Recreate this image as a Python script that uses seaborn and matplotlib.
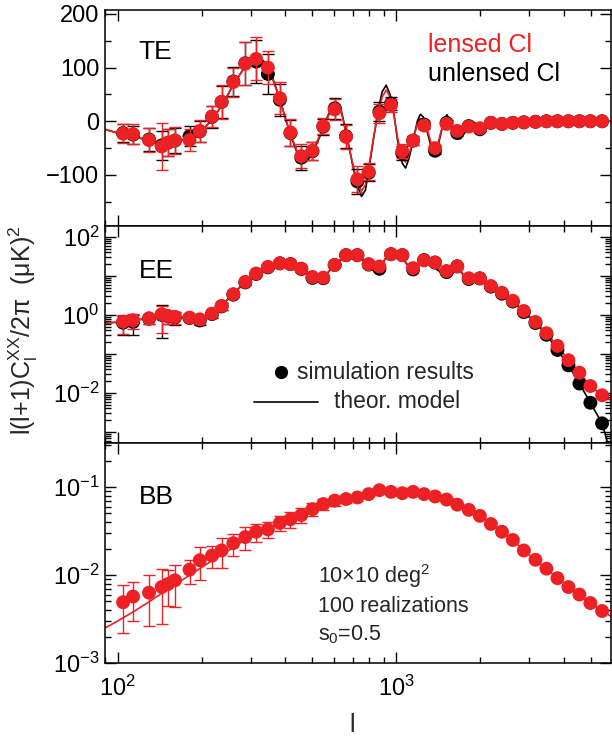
import numpy as np
import matplotlib
matplotlib.use("Agg")
import matplotlib.pyplot as plt
import seaborn as sns
import pandas as pd
from matplotlib.ticker import MultipleLocator, LogLocator, FuncFormatter, NullFormatter, FixedLocator
from matplotlib.lines import Line2D

# ---------------- data ----------------
ell = [104.5, 113.5, 129.5, 143.8, 151.5, 160.5, 181, 197, 218, 236, 260, 287, 314, 346,
       382, 417, 456, 500, 547, 601, 660, 725, 796, 870, 957, 1051, 1149, 1258, 1378,
       1515, 1655, 1820, 1995, 2185, 2395, 2620, 2870, 3160, 3460, 3790, 4150, 4545,
       4975, 5480]

te_lensed = [-23, -24, -35, -47, -40, -36, -35, -18, 9, 36, 73, 107, 116, 100, 43, -21,
             -65, -55, -9, 22, -29, -108, -94, 15, 30, -56, -36, -8, -50, -5, -18, -10,
             -13, -3, -5, -3, -2, -1, 0, 0, 0, 0, 0, 0]
te_lensed_err = [17, 18, 23, 43, 25, 25, 20, 20, 20, 32, 27, 40, 40, 30, 30, 25, 22, 17,
                 15, 20, 22, 24, 16, 18, 12, 13, 8, 6, 6, 5, 5, 4, 3, 2, 2, 1.5, 1, 1, 1,
                 0.5, 0.5, 0.5, 0.5, 0.5]
te_unlensed = [-22, -25, -34, -45, -40, -36, -28, -19, 8, 36, 74, 108, 111, 88, 40, -22,
               -68, -56, -10, 24, -28, -112, -96, 18, 33, -60, -36, -6, -55, -3, -22, -9,
               -15, -3, -5, -3, -2, -1, 0, 0, 0, 0, 0, 0]
te_unlensed_err = [16, 17, 22, 27, 25, 24, 19, 19, 20, 30, 27, 40, 40, 37, 30, 25, 22, 17,
                   15, 19, 22, 24, 16, 18, 12, 13, 8, 6, 6, 5, 5, 4, 3, 2, 2, 1.5, 1, 1, 1,
                   0.5, 0.5, 0.5, 0.5, 0.5]

ee_lensed = [0.67, 0.73, 0.82, 1.04, 0.94, 0.89, 0.85, 0.77, 1.08, 1.7, 3.4, 7.0, 11.5, 17,
             21, 20, 15.4, 9.4, 9.0, 19, 34, 34, 20, 17.4, 36, 34, 15.8, 25, 22, 13.4,
             17.4, 8.7, 8.7, 5.5, 3.7, 2.3, 1.26, 0.66, 0.34, 0.16, 0.069, 0.033, 0.015,
             0.0087]
ee_lensed_err = [0.35, 0.3, 0.22, 0.7, 0.35, 0.3, 0.15, 0.18, 0.2, 0.35, 0.5, 0.8, 1.0, 1.3,
                 1.5, 1.4, 1.0, 0.6, 0.5, 1.0, 1.6, 1.5, 0.8, 0.7, 1.3, 1.2, 0.5, 0.7, 0.6,
                 0.35, 0.4, 0.2, 0.17, 0.1, 0.06, 0.035, 0.018, 0.009, 0.004, 0.002,
                 0.0008, 0.0004, 0.00018, 0.0001]
ee_unlensed = [0.63, 0.66, 0.80, 1.0, 0.92, 0.86, 0.83, 0.72, 1.05, 1.65, 3.3, 6.8, 11.2,
               16.5, 21, 20, 15, 8.9, 8.7, 19, 34, 34, 19.5, 15.2, 36, 34, 14.6, 25.5, 22,
               12.5, 17.6, 8.3, 8.6, 5.3, 3.5, 2.2, 1.18, 0.62, 0.31, 0.126, 0.051, 0.0174,
               0.0056, 0.00166]
ee_unlensed_err = [0.33, 0.35, 0.22, 0.75, 0.35, 0.3, 0.15, 0.18, 0.2, 0.35, 0.5, 0.8, 1.0,
                   1.3, 1.5, 1.4, 1.0, 0.6, 0.5, 1.0, 1.6, 1.5, 0.8, 0.7, 1.3, 1.2, 0.5, 0.7,
                   0.6, 0.35, 0.4, 0.2, 0.17, 0.1, 0.06, 0.035, 0.018, 0.009, 0.004, 0.002,
                   0.0008, 0.0003, 0.0001, 0.00004]

bb_lensed = [0.0049, 0.0057, 0.0063, 0.0073, 0.0079, 0.0087, 0.0115, 0.0147, 0.0166, 0.019,
             0.023, 0.027, 0.031, 0.033, 0.039, 0.043, 0.048, 0.056, 0.064, 0.070, 0.073,
             0.076, 0.083, 0.092, 0.088, 0.085, 0.088, 0.083, 0.078, 0.072, 0.063, 0.055,
             0.047, 0.038, 0.031, 0.025, 0.019, 0.0149, 0.0118, 0.0092, 0.0073, 0.0060,
             0.0048, 0.0039]
bb_lensed_err = [0.0027, 0.0027, 0.0037, 0.0045, 0.0035, 0.0044, 0.0035, 0.006, 0.0046,
                 0.007, 0.0066, 0.0078, 0.0073, 0.007, 0.0075, 0.009, 0.0095, 0.0095, 0.009,
                 0.0095, 0.007, 0.006, 0.005, 0.005, 0.004, 0.004, 0.004, 0.0035, 0.003,
                 0.003, 0.0025, 0.002, 0.0018, 0.0015, 0.0012, 0.001, 0.0008, 0.0006,
                 0.0005, 0.0004, 0.0003, 0.00025, 0.0002, 0.00015]

# theory curves
ell_te_th = [90, 100, 113, 130, 145, 160, 180, 200, 220, 240, 260, 285, 305, 320, 340, 360,
             380, 400, 420, 440, 460, 480, 500, 530, 560, 590, 610, 630, 660, 690, 720, 750,
             775, 800, 830, 860, 890, 920, 950, 980, 1010, 1050, 1080, 1110, 1150, 1190,
             1220, 1250, 1300, 1340, 1371, 1400, 1450, 1490, 1520, 1560, 1620, 1694, 1760,
             1830, 1900, 1980, 2050, 2150, 2300, 2600, 3000, 4000, 6000]
te_unlensed_th = [-15, -22, -28, -36, -40, -38, -32, -18, 5, 35, 68, 100, 117, 121, 108, 80,
                  45, 5, -30, -58, -73, -73, -60, -30, 3, 28, 35, 28, -20, -70, -115, -140,
                  -128, -85, -30, 20, 55, 67, 50, 15, -35, -78, -87, -70, -35, 0, 13, 8,
                  -25, -52, -62, -55, -20, 5, 12, 0, -22, -33, -22, -8, -2, -8, -12, -5, -2,
                  -1, 0, 0, 0]
te_lensed_th = [-15, -22, -28, -36, -40, -38, -32, -18, 5, 35, 68, 100, 115, 118, 105, 78,
                44, 5, -28, -55, -68, -67, -55, -28, 2, 24, 30, 24, -22, -68, -108, -130,
                -118, -80, -28, 15, 45, 58, 45, 12, -30, -70, -76, -62, -34, -5, 5, 2, -20,
                -45, -52, -48, -18, -2, 3, -5, -17, -24, -18, -10, -8, -10, -10, -5, -3, -2,
                -1, 0, 0]

ell_ee_th = [90, 100, 113, 130, 145, 160, 180, 195, 210, 225, 240, 260, 285, 315, 345, 380,
             410, 450, 490, 525, 560, 600, 650, 690, 730, 780, 830, 870, 920, 960, 1000,
             1050, 1100, 1140, 1200, 1250, 1300, 1350, 1400, 1450, 1520, 1600, 1680, 1750,
             1800, 1900, 2000, 2100, 2200, 2300, 2400, 2620, 2870, 3160, 3460, 3790, 4150,
             4545, 4975, 5480, 5750, 5900]
ee_lensed_th = [0.62, 0.65, 0.72, 0.82, 0.88, 0.88, 0.85, 0.85, 0.98, 1.3, 2.0, 3.4, 6.8,
                11.5, 16.5, 20.5, 20.5, 15.5, 10, 8.5, 11, 19, 31, 36, 33, 22, 15, 16, 30,
                37, 36, 30, 19, 15.5, 20, 25, 24, 19, 16, 14, 15, 17.5, 15, 10.5, 8.5, 8.5,
                8.0, 6.5, 5.2, 4.3, 3.8, 2.3, 1.25, 0.66, 0.34, 0.16, 0.069, 0.033, 0.015,
                0.0087, 0.0072, 0.0065]
ee_unlensed_th = [0.62, 0.65, 0.72, 0.82, 0.88, 0.88, 0.85, 0.85, 0.98, 1.3, 2.0, 3.4, 6.8,
                  11.5, 16.5, 20.5, 20.5, 15.5, 9.6, 8.0, 10.8, 19, 31, 36.5, 33, 21, 13.5,
                  15, 30, 38, 37, 30, 18, 14.5, 20, 26, 25, 18.5, 14.5, 12, 14.5, 18, 14.5,
                  10, 8.0, 8.6, 7.8, 6.3, 5.0, 4.0, 3.6, 2.2, 1.18, 0.62, 0.31, 0.126, 0.051,
                  0.0174, 0.0056, 0.00166, 0.0005, 0.00035]

ell_bb_th = [90, 100, 115, 130, 145, 160, 180, 200, 225, 250, 280, 315, 350, 400, 450, 500,
             550, 600, 660, 720, 800, 870, 950, 1050, 1150, 1250, 1380, 1500, 1650, 1800,
             2000, 2200, 2400, 2620, 2870, 3160, 3460, 3790, 4150, 4545, 4975, 5480, 5900]
bb_lensed_th = [0.0025, 0.0030, 0.0039, 0.0050, 0.0063, 0.0077, 0.0098, 0.0122, 0.0155,
                0.019, 0.024, 0.029, 0.034, 0.041, 0.048, 0.055, 0.062, 0.068, 0.074, 0.079,
                0.084, 0.087, 0.088, 0.087, 0.085, 0.082, 0.077, 0.071, 0.063, 0.055, 0.046,
                0.038, 0.031, 0.025, 0.019, 0.0148, 0.0117, 0.0092, 0.0073, 0.0059, 0.0048,
                0.0039, 0.0034]

panel_names = ["TE", "EE", "BB"]

# ---------------- style ----------------
sns.set_theme(style="ticks")
plt.rcParams['font.family'] = ['Liberation Sans', 'DejaVu Sans']
plt.rcParams['mathtext.fontset'] = 'custom'
plt.rcParams['mathtext.rm'] = 'Liberation Sans'
plt.rcParams['mathtext.it'] = 'Liberation Sans:italic'
plt.rcParams['mathtext.bf'] = 'Liberation Sans:bold'
plt.rcParams['axes.edgecolor'] = 'black'
plt.rcParams['axes.linewidth'] = 1.1
plt.rcParams['xtick.color'] = 'black'
plt.rcParams['ytick.color'] = 'black'

RED = '#ED2024'
BLACK = '#000000'

W, H = 612, 739
fig = plt.figure(figsize=(W / 100, H / 100), dpi=100)


def fx(x):
    return x / W


def fy(y):
    return 1 - y / H


left, right = fx(105), fx(611)
edges = [9.5, 226, 443, 663]
axes = []
for i in range(3):
    ax = fig.add_axes([left, fy(edges[i + 1]), right - left, (edges[i + 1] - edges[i]) / H])
    axes.append(ax)
ax_te, ax_ee, ax_bb = axes

ms = 100  # marker area (pt^2)


def draw_series(ax, x, y, yerr, color, z):
    ax.errorbar(x, y, yerr=yerr, fmt='none', ecolor=color, elinewidth=1.0,
                capsize=4.5, capthick=1.0, zorder=z)
    sns.scatterplot(x=x, y=y, ax=ax, color=color, s=ms, linewidth=0,
                    edgecolor='none', zorder=z + 0.5, legend=False)


def draw_line(ax, x, y, color, z):
    sns.lineplot(x=x, y=y, ax=ax, color=color, linewidth=1.2, estimator=None,
                 sort=False, zorder=z, legend=False)


# TE
draw_line(ax_te, ell_te_th, te_unlensed_th, BLACK, 2)
draw_line(ax_te, ell_te_th, te_lensed_th, RED, 2.2)
draw_series(ax_te, ell, te_unlensed, te_unlensed_err, BLACK, 3)
draw_series(ax_te, ell, te_lensed, te_lensed_err, RED, 4)

# EE
draw_line(ax_ee, ell_ee_th, ee_unlensed_th, BLACK, 2)
draw_line(ax_ee, ell_ee_th, ee_lensed_th, RED, 2.2)
draw_series(ax_ee, ell, ee_unlensed, ee_unlensed_err, BLACK, 3)
draw_series(ax_ee, ell, ee_lensed, ee_lensed_err, RED, 4)

# BB
draw_line(ax_bb, ell_bb_th, bb_lensed_th, RED, 2)
draw_series(ax_bb, ell, bb_lensed, bb_lensed_err, RED, 4)

# ---------------- axes ----------------
for ax in axes:
    ax.set_xscale('log')
    ax.set_xlim(90, 5900)
    ax.set_xlabel('')
    ax.set_ylabel('')
    ax.xaxis.set_major_locator(LogLocator(base=10, numticks=10))
    ax.xaxis.set_minor_locator(LogLocator(base=10, subs=np.arange(2, 10), numticks=20))
    ax.tick_params(which='both', direction='in', top=True, right=True, width=1.0,
                   labelsize=17, colors='black')
    ax.tick_params(which='major', length=8)
    ax.tick_params(which='minor', length=4)
    ax.tick_params(axis='y', pad=4)
    for sp in ax.spines.values():
        sp.set_visible(True)
        sp.set_color('black')
        sp.set_linewidth(1.1)

for ax in (ax_te, ax_ee):
    ax.xaxis.set_major_formatter(NullFormatter())
    ax.xaxis.set_minor_formatter(NullFormatter())
ax_bb.xaxis.set_minor_formatter(NullFormatter())
ax_bb.tick_params(axis='x', pad=9)

ax_te.set_ylim(-195, 208)
ax_te.yaxis.set_major_locator(FixedLocator([-100, 0, 100, 200]))
ax_te.yaxis.set_minor_locator(MultipleLocator(50))

ax_ee.set_yscale('log')
ax_ee.set_ylim(5.2e-4, 1.9e2)
ax_ee.yaxis.set_major_locator(FixedLocator([1e-3, 1e-2, 1e-1, 1, 10, 100]))
ax_ee.yaxis.set_minor_locator(LogLocator(base=10, subs=np.arange(2, 10), numticks=20))
ax_ee.yaxis.set_minor_formatter(NullFormatter())


def ee_fmt(v, pos):
    k = int(round(np.log10(v)))
    if k % 2 == 0:
        return r'$\mathdefault{10^{%d}}$' % k
    return ''


ax_ee.yaxis.set_major_formatter(FuncFormatter(ee_fmt))

ax_bb.set_yscale('log')
ax_bb.set_ylim(1e-3, 10 ** -0.5)
ax_bb.yaxis.set_major_locator(FixedLocator([1e-3, 1e-2, 1e-1]))
ax_bb.yaxis.set_minor_locator(LogLocator(base=10, subs=np.arange(2, 10), numticks=20))
ax_bb.yaxis.set_minor_formatter(NullFormatter())

# ---------------- texts ----------------
big = 19
for name, yb in zip(panel_names, [59, 278, 504]):
    fig.text(fx(138.5), fy(yb), name, fontsize=big, color='black', ha='left', va='baseline')

fig.text(fx(428), fy(52), 'lensed Cl', fontsize=18, color=RED, ha='left', va='baseline')
fig.text(fx(428), fy(81), 'unlensed Cl', fontsize=18, color='black', ha='left', va='baseline')

# legend in EE panel
fig.add_artist(Line2D([fx(281)], [fy(372)], marker='o', markersize=9.5, color='black',
                      markeredgewidth=0, linestyle='none', transform=fig.transFigure))
fig.text(fx(297), fy(379), 'simulation results', fontsize=16.5, ha='left', va='baseline')
fig.add_artist(Line2D([fx(254), fx(318)], [fy(402), fy(402)], color='black', linewidth=1.2,
                      transform=fig.transFigure))
fig.text(fx(334), fy(408), 'theor. model', fontsize=16.5, ha='left', va='baseline')

# BB annotation
fig.text(fx(318), fy(583), '10×10 deg$^2$', fontsize=15.5, ha='left', va='baseline')
fig.text(fx(318), fy(612), '100 realizations', fontsize=15.5, ha='left', va='baseline')
fig.text(fx(318), fy(640), 's$_0$=0.5', fontsize=15.5, ha='left', va='baseline')

# axis labels
fig.text(fx(23), fy(330), r'l(l+1)C$_\mathrm{l}^\mathrm{XX}$/2π  (μK)$^2$', fontsize=18,
         rotation=90, ha='center', va='center')
fig.text(fx(352), fy(732), 'l', fontsize=18, ha='center', va='baseline')

fig.savefig('out.png', dpi=100)
